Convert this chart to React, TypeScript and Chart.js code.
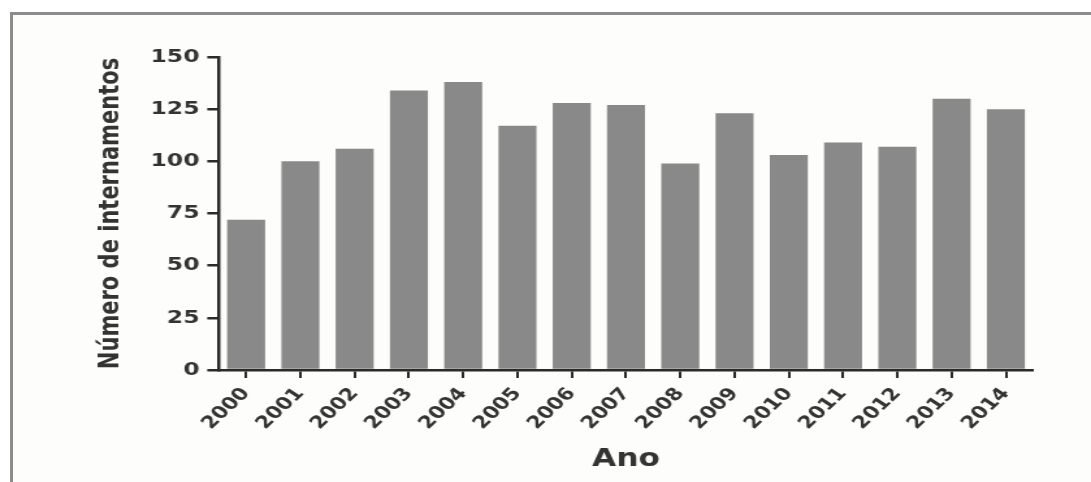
import React, { useEffect, useRef } from "react";
import { Chart, registerables } from "chart.js";

Chart.register(...registerables);

const categories = ["2000", "2001", "2002", "2003", "2004", "2005", "2006", "2007", "2008", "2009", "2010", "2011", "2012", "2013", "2014"];
const internamentos = [72, 100, 106, 134, 138, 117, 128, 127, 99, 123, 103, 109, 107, 130, 125];
const yTicks = [0, 25, 50, 75, 100, 125, 150];
const xTitle = "Ano";
const yTitle = "Número de internamentos";

const CANVAS_W = 839;
const CANVAS_H = 482;
const STRETCH = 1091 / CANVAS_W;

export default function App() {
  const ref = useRef<HTMLCanvasElement | null>(null);

  useEffect(() => {
    if (!ref.current) return;
    const font = "'DejaVu Sans', 'Liberation Sans', sans-serif";
    const chart = new Chart(ref.current, {
      type: "bar",
      data: {
        labels: categories,
        datasets: [
          {
            data: internamentos,
            backgroundColor: "#898989",
            borderWidth: 0,
            barPercentage: 0.7,
            categoryPercentage: 1,
          },
        ],
      },
      options: {
        animation: false,
        responsive: false,
        devicePixelRatio: 1,
        layout: { padding: { left: 70, right: 44.6, top: 57, bottom: 0 } },
        plugins: { legend: { display: false }, tooltip: { enabled: false } },
        scales: {
          x: {
            grid: {
              offset: false,
              drawOnChartArea: false,
              drawTicks: true,
              tickLength: 8,
              color: "#2a2a2a",
              lineWidth: 2,
            },
            border: { display: true, color: "#2a2a2a", width: 2.5 },
            ticks: {
              minRotation: 50,
              maxRotation: 50,
              padding: 6,
              color: "#333333",
              font: { family: font, size: 17, weight: "bold" },
            },
            title: {
              display: true,
              text: xTitle,
              color: "#333333",
              padding: { top: 4, bottom: 8 },
              font: { family: font, size: 24, weight: "bold" },
            },
            afterFit: (scale: any) => {
              scale.height = 112;
            },
          },
          y: {
            min: 0,
            max: 150,
            afterBuildTicks: (scale: any) => {
              scale.ticks = yTicks.map((v) => ({ value: v }));
            },
            grid: {
              drawOnChartArea: false,
              drawTicks: true,
              tickLength: 9,
              color: "#2a2a2a",
              lineWidth: 2.5,
            },
            border: { display: true, color: "#2a2a2a", width: 2.5 },
            ticks: {
              padding: 6,
              color: "#333333",
              font: { family: font, size: 18, weight: "bold" },
            },
            title: {
              display: true,
              text: yTitle,
              color: "#333333",
              padding: { top: 3, bottom: 3 },
              font: { family: font, size: 21, weight: "bold" },
            },
            afterFit: (scale: any) => {
              scale.width = 98.4;
            },
          },
        },
      },
    });
    return () => chart.destroy();
  }, []);

  return (
    <div style={{ position: "fixed", left: 0, top: 0, width: 1091, height: 482, background: "#ffffff", overflow: "hidden" }}>
      <div
        style={{
          position: "absolute",
          left: 10,
          top: 12,
          width: 1200,
          height: 600,
          borderLeft: "3px solid #8c8c8c",
          borderTop: "3px solid #8c8c8c",
          background: "#fdfdfb",
        }}
      />
      <canvas
        ref={ref}
        width={CANVAS_W}
        height={CANVAS_H}
        style={{
          position: "absolute",
          left: 0,
          top: 0,
          width: CANVAS_W,
          height: CANVAS_H,
          transform: `scaleX(${STRETCH})`,
          transformOrigin: "0 0",
        }}
      />
    </div>
  );
}
